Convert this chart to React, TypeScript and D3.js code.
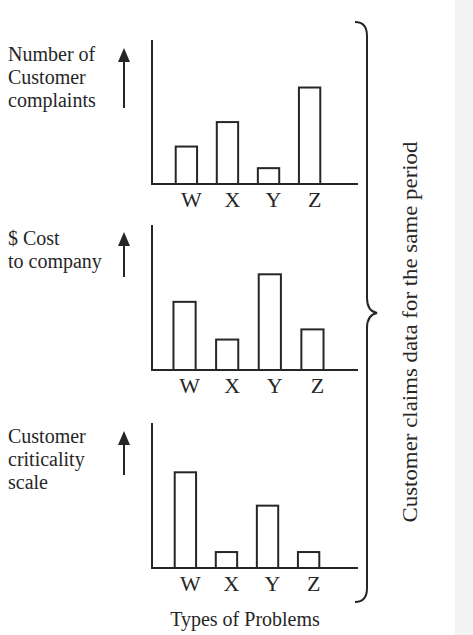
import React, { useEffect, useRef } from "react";
import { select, scaleBand, scaleLinear, path } from "d3";

// problem types shared by all three panels
const problems = ["W", "X", "Y", "Z"];

// relative bar heights (axis top = 10)
const complaints = [2.6, 4.3, 1.1, 6.7];
const costs = [4.7, 2.1, 6.6, 2.8];
const criticality = [6.6, 1.1, 4.3, 1.1];

const complaintsLabel = ["Number of", "Customer", "complaints"];
const costLabel = ["$ Cost", "to company"];
const criticalityLabel = ["Customer", "criticality", "scale"];

const xTitle = "Types of Problems";
const sideTitle = "Customer claims data for the same period";

const panels = [
  { values: complaints, label: complaintsLabel, top: 40, base: 184, xr: [156, 340], arrow: [48, 108], text: 61 },
  { values: costs, label: costLabel, top: 225, base: 370, xr: [153, 344], arrow: [232, 277], text: 245 },
  { values: criticality, label: criticalityLabel, top: 423, base: 568, xr: [155, 339], arrow: [431, 475], text: 443 },
];

const W = 473;
const H = 635;
const ink = "#262626";
const font = "'Liberation Serif', 'Times New Roman', serif";

const App = () => {
  const svgRef = useRef<SVGSVGElement>(null);

  useEffect(() => {
    const svg = select(svgRef.current);
    svg.selectAll("*").remove();

    svg.append("rect").attr("width", W).attr("height", H).attr("fill", "#fff");
    svg.append("rect").attr("x", 455).attr("width", W - 455).attr("height", H).attr("fill", "#f4f4f4");

    panels.forEach((p) => {
      const g = svg.append("g");
      const x = scaleBand().domain(problems).range(p.xr as [number, number]).padding(0.48);
      const y = scaleLinear().domain([0, 10]).range([p.base, p.top]);

      // axes
      g.append("line")
        .attr("x1", 152).attr("x2", 152)
        .attr("y1", y(10)).attr("y2", y(0))
        .attr("stroke", ink).attr("stroke-width", 2);
      g.append("line")
        .attr("x1", 151).attr("x2", 358)
        .attr("y1", y(0)).attr("y2", y(0))
        .attr("stroke", ink).attr("stroke-width", 2);

      // bars
      g.selectAll("rect.bar")
        .data(p.values)
        .enter()
        .append("rect")
        .attr("class", "bar")
        .attr("x", (_d, i) => x(problems[i]) as number)
        .attr("width", x.bandwidth())
        .attr("y", (d) => y(d))
        .attr("height", (d) => y(0) - y(d))
        .attr("fill", "#fff")
        .attr("stroke", ink)
        .attr("stroke-width", 2);

      // category labels
      g.selectAll("text.cat")
        .data(problems)
        .enter()
        .append("text")
        .attr("class", "cat")
        .attr("x", (d) => (x(d) as number) + x.bandwidth() / 2 + 5)
        .attr("y", y(0) + 23)
        .attr("text-anchor", "middle")
        .attr("font-family", font)
        .attr("font-size", 22)
        .attr("fill", ink)
        .text((d) => d);

      // measure label
      g.selectAll("text.lbl")
        .data(p.label)
        .enter()
        .append("text")
        .attr("class", "lbl")
        .attr("x", 8)
        .attr("y", (_d, i) => p.text + i * 23)
        .attr("font-family", font)
        .attr("font-size", 20)
        .attr("fill", ink)
        .text((d) => d);

      // up arrow
      g.append("line")
        .attr("x1", 124).attr("x2", 124)
        .attr("y1", p.arrow[1]).attr("y2", p.arrow[0] + 10)
        .attr("stroke", ink).attr("stroke-width", 2);
      const head = path();
      head.moveTo(124, p.arrow[0]);
      head.lineTo(130, p.arrow[0] + 14);
      head.lineTo(118, p.arrow[0] + 14);
      head.closePath();
      g.append("path").attr("d", head.toString()).attr("fill", ink);
    });

    svg.append("text")
      .attr("x", 245)
      .attr("y", 626)
      .attr("text-anchor", "middle")
      .attr("font-family", font)
      .attr("font-size", 20)
      .attr("fill", ink)
      .text(xTitle);

    // curly brace
    const b = path();
    b.moveTo(355, 22);
    b.quadraticCurveTo(367, 22, 367, 36);
    b.lineTo(367, 298);
    b.quadraticCurveTo(367, 311, 377, 313);
    b.quadraticCurveTo(367, 315, 367, 328);
    b.lineTo(367, 588);
    b.quadraticCurveTo(367, 602, 355, 602);
    svg.append("path")
      .attr("d", b.toString())
      .attr("fill", "none")
      .attr("stroke", ink)
      .attr("stroke-width", 2);

    svg.append("text")
      .attr("transform", "translate(417,332) rotate(-90)")
      .attr("text-anchor", "middle")
      .attr("font-family", font)
      .attr("font-size", 21)
      .attr("textLength", 381)
      .attr("lengthAdjust", "spacingAndGlyphs")
      .attr("fill", ink)
      .text(sideTitle);
  }, []);

  return (
    <svg
      ref={svgRef}
      width={W}
      height={H}
      style={{ position: "absolute", left: 0, top: 0 }}
    ></svg>
  );
};

export default App;
